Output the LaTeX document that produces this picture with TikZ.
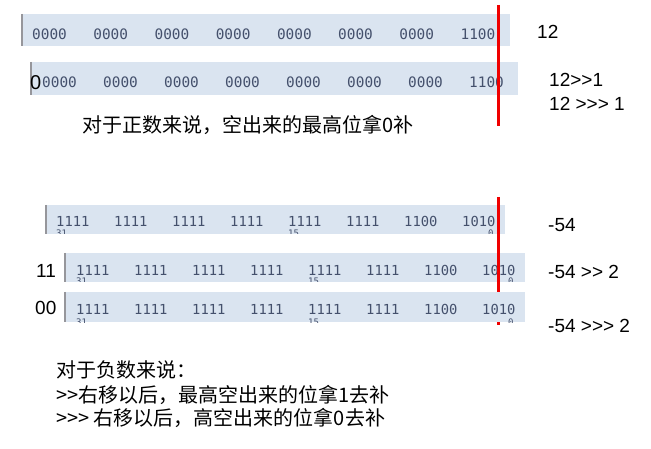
\documentclass[tikz,border=0pt]{standalone}
\usepackage{fontspec}
\newfontfamily\arial{Liberation Sans}
\newfontfamily\cjk{Noto Sans CJK SC}
\newfontfamily\mono{DejaVu Sans Mono}
\definecolor{barfill}{RGB}{218,228,240}
\definecolor{bargrey}{RGB}{150,150,155}
\definecolor{bitcol}{RGB}{68,80,108}
\definecolor{redline}{RGB}{240,0,0}
\tikzset{
  bitsbig/.style={font=\mono\fontsize{14.4}{14.4}\selectfont, text=bitcol, anchor=base west, inner sep=0pt},
  bitssmall/.style={font=\mono\fontsize{13.8}{13.8}\selectfont, text=bitcol, anchor=base west, inner sep=0pt},
  bitsidx/.style={font=\mono\fontsize{9}{9}\selectfont, text=bitcol, anchor=base west, inner sep=0pt},
  lab/.style={font=\arial\fontsize{19}{19}\selectfont, anchor=base west, inner sep=0pt},
  cjktext/.style={font=\cjk\fontsize{20}{20}\selectfont, anchor=base west, inner sep=0pt},
  barleft/.style={draw=bargrey, line width=2pt},
  marker/.style={draw=redline, line width=3pt},
}
\begin{document}
\begin{tikzpicture}[x=1pt,y=-1pt]
\useasboundingbox (0,0) rectangle (651,449);
% ---- bars ----
\fill[barfill] (23,14) rectangle (510,46);
\draw[barleft] (22,14) -- (22,46);
\fill[barfill] (32,62) rectangle (518,95);
\draw[barleft] (31,62) -- (31,95);
\fill[barfill] (47,205) rectangle (505,234);
\draw[barleft] (46,205) -- (46,234);
\fill[barfill] (66,253) rectangle (525,282);
\draw[barleft] (65,253) -- (65,282);
\fill[barfill] (66,292) rectangle (525,322);
\draw[barleft] (65,292) -- (65,322);
% ---- top bits ----
\foreach \i/\t in {0/0000,1/0000,2/0000,3/0000,4/0000,5/0000,6/0000,7/1100}{
  \node[bitsbig] (ra\i) at ({32+61.2*\i},40) {\t};
  \node[bitsbig] (rb\i) at ({42+61*\i},88) {\t};
}
% ---- bottom bits ----
\foreach \i/\t in {0/1111,1/1111,2/1111,3/1111,4/1111,5/1111,6/1100,7/1010}{
  \node[bitssmall] (rc\i) at ({56+58*\i},227) {\t};
  \node[bitssmall] (rd\i) at ({76+58*\i},276) {\t};
  \node[bitssmall] (re\i) at ({76+58*\i},314) {\t};
}
% clipped bit index line
\begin{scope}
  \clip (47,205) rectangle (505,234);
  \node[bitsidx] (ic1) at (56,237) {31};
  \node[bitsidx] (ic2) at (288,237) {15};
  \node[bitsidx] (ic3) at (488,237) {0};
\end{scope}
\begin{scope}
  \clip (66,253) rectangle (525,282);
  \node[bitsidx] (id1) at (76,285) {31};
  \node[bitsidx] (id2) at (308,285) {15};
  \node[bitsidx] (id3) at (508,285) {0};
\end{scope}
\begin{scope}
  \clip (66,292) rectangle (525,322);
  \node[bitsidx] (ie1) at (76,325) {31};
  \node[bitsidx] (ie2) at (308,325) {15};
  \node[bitsidx] (ie3) at (508,325) {0};
\end{scope}
% ---- red markers ----
\draw[marker] (498,5) -- (498,126);
\draw[marker] (498,197) -- (498,292);
\draw[marker] (498,322) -- (498,325);
% ---- left labels ----
\node[lab, font=\arial\fontsize{20}{20}\selectfont] (zero) at (30,90) {0};
\node[lab] (ones) at (36,278) {11};
\node[lab] (zeros) at (35,315) {00};
% ---- right labels ----
\node[lab] (l12) at (537,39) {12};
\node[lab] (l12a) at (549,87) {12>>1};
\node[lab] (l12b) at (549,111) {12 >>> 1};
\node[lab] (l54) at (548,232) {-54};
\node[lab] (l54a) at (548,279) {-54 >> 2};
\node[lab] (l54b) at (548,333) {-54 >>> 2};
% ---- explanations ----
\node[cjktext] (pos) at (82,133) {对于正数来说，空出来的最高位拿0补};
\node[cjktext] (neg1) at (56,377) {对于负数来说：};
\node[cjktext] (neg2) at (56,402) {>>右移以后，最高空出来的位拿1去补};
\node[cjktext] (neg3) at (56,425) {>>> 右移以后，高空出来的位拿0去补};
\end{tikzpicture}
\end{document}
